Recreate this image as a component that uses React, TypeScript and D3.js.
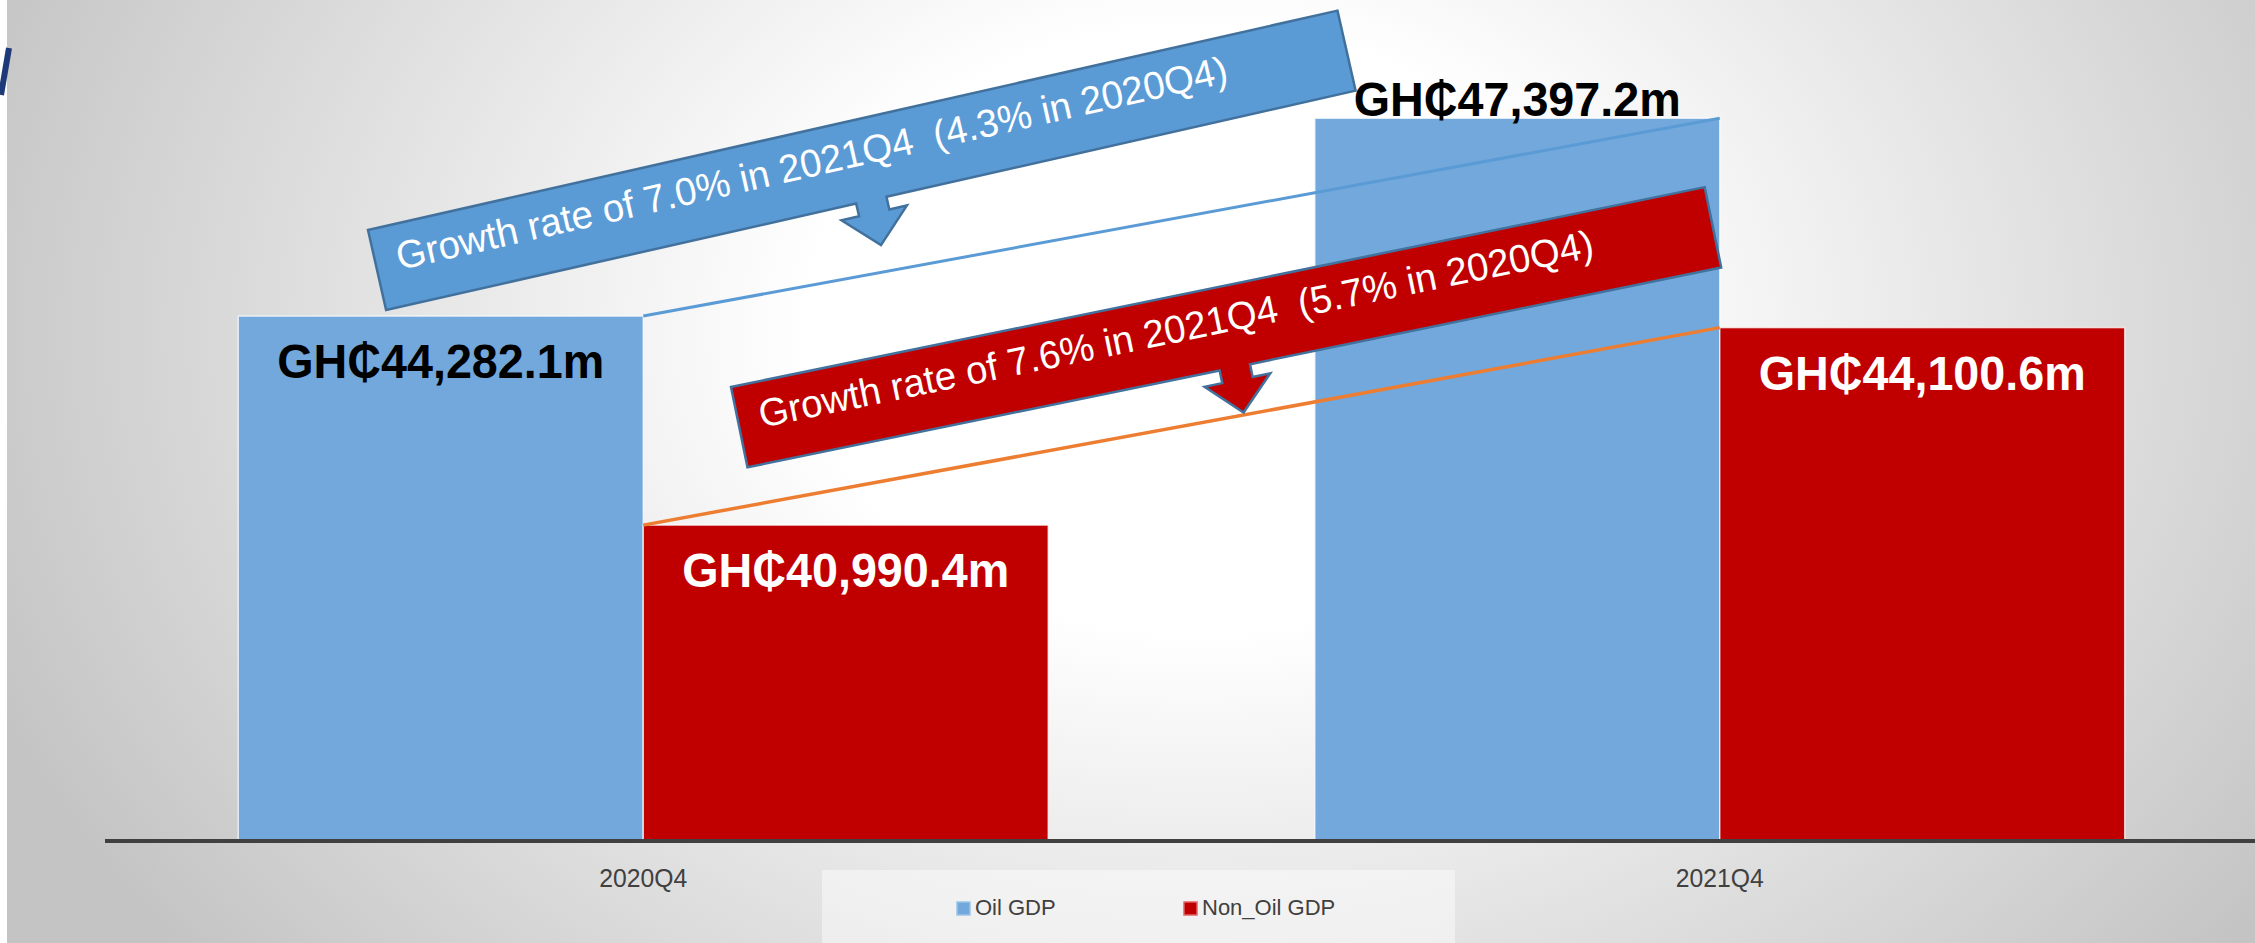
import React from 'react';
import * as d3 from 'd3';

const categories = ['2020Q4', '2021Q4'];
const seriesNames = ['Oil GDP', 'Non_Oil GDP'];
const oilGDP = [44282.1, 47397.2];
const nonOilGDP = [40990.4, 44100.6];
const yDomain = [36000, 48000];
const growthNotes = [
  'Growth rate of 7.0% in 2021Q4  (4.3% in 2020Q4)',
  'Growth rate of 7.6% in 2021Q4  (5.7% in 2020Q4)',
];

const W = 2255;
const H = 943;
const COLORS = ['#72A8DC', '#C00000'];
const LEGEND_EDGE = ['#9DC3E6', '#E06666'];
const FONT = '"Liberation Sans", Arial, "DejaVu Sans", sans-serif';

const fmt = d3.format(',.1f');
const label = (v: number) => `GH\u20B5${fmt(v)}m`;

export default function App() {
  const plot = { left: 105, right: 2258, top: 80, bottom: 842 };
  const x0 = d3
    .scaleBand<string>()
    .domain(categories)
    .range([plot.left, plot.right])
    .paddingInner(0.2476)
    .paddingOuter(0.1238);
  const x1 = d3.scaleBand<string>().domain(seriesNames).range([0, x0.bandwidth()]);
  const y = d3.scaleLinear().domain(yDomain).range([plot.bottom, plot.top]);

  const values = [oilGDP, nonOilGDP];
  // label placement: [series][category]
  const placement = [
    ['inside', 'outside'],
    ['inside', 'inside'],
  ];
  const labelColor = ['#000000', '#FFFFFF'];

  const bars: any[] = [];
  values.forEach((vals, si) => {
    vals.forEach((v, ci) => {
      const bx = (x0(categories[ci]) as number) + (x1(seriesNames[si]) as number);
      bars.push({ si, ci, v, x: bx, w: x1.bandwidth(), y: y(v) });
    });
  });

  const oilLine = d3.line<any>()([
    [(x0(categories[0]) as number) + (x1(seriesNames[0]) as number) + x1.bandwidth(), y(oilGDP[0])],
    [(x0(categories[1]) as number) + (x1(seriesNames[0]) as number) + x1.bandwidth(), y(oilGDP[1])],
  ]);
  const nonOilLine = d3.line<any>()([
    [(x0(categories[0]) as number) + (x1(seriesNames[1]) as number), y(nonOilGDP[0])],
    [(x0(categories[1]) as number) + (x1(seriesNames[1]) as number), y(nonOilGDP[1])],
  ]);

  // callout banners (local geometry)
  const bw = 994;
  const bh = 82;
  const bannerPath = `M0,0 L${bw},0 L${bw},${bh} L513,${bh} L513,95 L531,95 L497,128 L464,95 L482,95 L482,${bh} L0,${bh} Z`;
  const banners = [
    { tx: 368, ty: 230, rot: -12.75, fill: '#5B9BD5', text: growthNotes[0] },
    { tx: 731, ty: 387, rot: -11.6, fill: '#C00000', text: growthNotes[1] },
  ];

  return (
    <svg
      width={W}
      height={H}
      viewBox={`0 0 ${W} ${H}`}
      style={{ position: 'absolute', left: 0, top: 0, display: 'block' }}
    >
      <defs>
        <radialGradient
          id="bg"
          gradientUnits="userSpaceOnUse"
          cx={0}
          cy={0}
          r={1}
          gradientTransform="translate(1200 330) scale(1300 1000)"
        >
          <stop offset="0" stopColor="#ffffff" />
          <stop offset="0.3" stopColor="#ffffff" />
          <stop offset="1" stopColor="#c4c4c4" />
        </radialGradient>
      </defs>
      <rect x={0} y={0} width={W} height={H} fill="url(#bg)" />
      <rect x={0} y={0} width={7} height={H} fill="#ffffff" />
      <line x1={1} y1={95} x2={9} y2={48} stroke="#1F3A78" strokeWidth={6} />

      {/* legend box */}
      <rect x={822} y={870} width={633} height={80} fill="rgba(255,255,255,0.45)" />

      {/* bars */}
      {bars.map((b, i) => (
        <rect
          key={i}
          x={b.x}
          y={b.y}
          width={b.w}
          height={plot.bottom - b.y}
          fill={COLORS[b.si]}
          stroke="rgba(255,255,255,0.7)"
          strokeWidth={1.5}
        />
      ))}

      {/* axis */}
      <line x1={plot.left} x2={W} y1={841} y2={841} stroke="#404040" strokeWidth={4} />
      {categories.map((c) => (
        <text
          key={c}
          x={(x0(c) as number) + x0.bandwidth() / 2}
          y={887}
          textAnchor="middle"
          fontFamily={FONT}
          fontSize={26}
          fill="#404040"
          textLength={88}
          lengthAdjust="spacingAndGlyphs"
        >
          {c}
        </text>
      ))}

      {/* connecting lines */}
      <path d={oilLine as string} stroke="#5B9BD5" strokeWidth={3} fill="none" />
      <path d={nonOilLine as string} stroke="#ED7D31" strokeWidth={3.5} fill="none" />

      {/* data labels */}
      {bars.map((b, i) => {
        const pos = placement[b.si][b.ci];
        const ty = pos === 'inside' ? b.y + 62 : b.y - 2;
        const col = pos === 'inside' ? labelColor[b.si] : '#000000';
        return (
          <text
            key={i}
            x={b.x + b.w / 2}
            y={ty}
            textAnchor="middle"
            fontFamily={FONT}
            fontWeight="bold"
            fontSize={49}
            fill={col}
            textLength={327}
            lengthAdjust="spacingAndGlyphs"
          >
            {label(b.v)}
          </text>
        );
      })}

      {/* banners */}
      {banners.map((bn, i) => (
        <g key={i} transform={`translate(${bn.tx},${bn.ty}) rotate(${bn.rot})`}>
          <path d={bannerPath} fill={bn.fill} stroke="#41719C" strokeWidth={2.5} strokeLinejoin="miter" />
          <text
            x={22}
            y={46}
            fontFamily={FONT}
            fontSize={39}
            fill="#ffffff"
            textLength={851}
            lengthAdjust="spacingAndGlyphs"
            style={{ whiteSpace: 'pre' }}
          >
            {bn.text}
          </text>
        </g>
      ))}

      {/* legend */}
      {seriesNames.map((s, i) => {
        const lx = [957, 1184][i];
        return (
          <g key={s}>
            <rect x={lx} y={902} width={13} height={13} fill={COLORS[i]} stroke={LEGEND_EDGE[i]} strokeWidth={1.5} />
            <text x={lx + 18} y={915} fontFamily={FONT} fontSize={22} fill="#404040">
              {s}
            </text>
          </g>
        );
      })}
    </svg>
  );
}
